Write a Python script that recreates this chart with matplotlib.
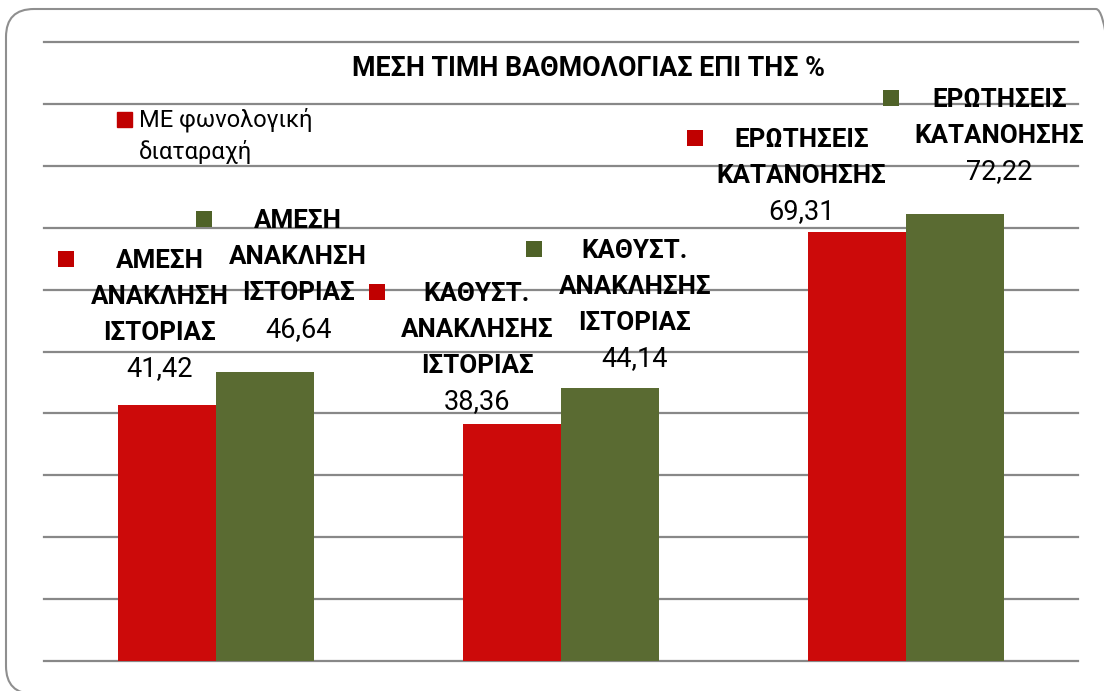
import matplotlib
matplotlib.use('Agg')
import matplotlib.pyplot as plt
from matplotlib.patches import FancyBboxPatch, Rectangle
from matplotlib.transforms import offset_copy

plt.rcParams['font.family'] = ['Roboto', 'DejaVu Sans']

# δεδομένα
categories = ['ΑΜΕΣΗ\nΑΝΑΚΛΗΣΗ\nΙΣΤΟΡΙΑΣ',
              'ΚΑΘΥΣΤ.\nΑΝΑΚΛΗΣΗΣ\nΙΣΤΟΡΙΑΣ',
              'ΕΡΩΤΗΣΕΙΣ\nΚΑΤΑΝΟΗΣΗΣ']
red_values = [41.42, 38.36, 69.31]
green_values = [46.64, 44.14, 72.22]
red_name = 'ΜΕ φωνολογική\nδιαταραχή'
title = 'ΜΕΣΗ ΤΙΜΗ ΒΑΘΜΟΛΟΓΙΑΣ ΕΠΙ ΤΗΣ %'

# θέσεις ετικετών (pixels): dx από κέντρο μπάρας, dy πάνω από την κορυφή, dx τετραγώνου
red_lbl = [(-8, 36, -93), (-35, 22, -100), (-55, 20, -107)]
green_lbl = [(33, 43, -94), (25, 29, -101), (45, 42, -109)]

W, H = 1104, 691
fig = plt.figure(figsize=(W / 100, H / 100), dpi=100)
ax = fig.add_axes([44 / W, 1 - 661 / H, 1034 / W, 619 / H])

bar_w = 0.284
x = list(range(len(categories)))
xr = [i - bar_w / 2 for i in x]
xg = [i + bar_w / 2 for i in x]
ax.bar(xr, red_values, bar_w, color='#CC0A0A', zorder=2)
ax.bar(xg, green_values, bar_w, color='#5A6B32', zorder=2)

ax.set_xlim(-0.5, 2.5)
ax.set_ylim(0, 100)
ax.set_yticks(range(0, 101, 10))
ax.set_xticks([])
ax.tick_params(left=False, labelleft=False)
for s in ax.spines.values():
    s.set_visible(False)
ax.set_axisbelow(True)
ax.yaxis.grid(True, color='#888888', linewidth=1.6)
for gl in ax.get_ygridlines():
    gl.set_clip_on(False)

step = 36
def label(xs, vals, lay, sq_color):
    for xi, v, cat, (dx, dy, sdx) in zip(xs, vals, categories, lay):
        ax.annotate(f'{v:.2f}'.replace('.', ','), (xi, v), xytext=(dx, dy),
                    textcoords='offset pixels', ha='center', va='center',
                    fontsize=19.5, color='black', zorder=5)
        lines = cat.split('\n')
        n = len(lines)
        for k, ln in enumerate(lines):
            ax.annotate(ln, (xi, v), xytext=(dx, dy + (n - k) * step),
                        textcoords='offset pixels', ha='center', va='center',
                        fontsize=18.7, fontweight='bold', color='black', zorder=5)
        tr = offset_copy(ax.transData, fig=fig, x=dx + sdx, y=dy + n * step + 2, units='dots')
        ax.plot([xi], [v], marker='s', ms=11.5, mew=0, color=sq_color,
                transform=tr, clip_on=False, zorder=5)

label(xr, red_values, red_lbl, '#C00000')
label(xg, green_values, green_lbl, '#4F6228')

# τίτλος
fig.text(588 / W, 1 - 68 / H, title, ha='center', va='center',
         fontsize=19.3, fontweight='bold')

# υπόμνημα
fig.patches.append(Rectangle((117 / W, 1 - 127 / H), 15 / W, 15 / H,
                             transform=fig.transFigure, color='#C00000'))
for k, ln in enumerate(red_name.split('\n')):
    fig.text(139 / W, 1 - (120 + 32 * k) / H, ln, ha='left', va='center', fontsize=17)

# πλαίσιο (σε pixels)
box = FancyBboxPatch((6, H - 694), 1118, 685,
                     boxstyle='round,pad=0,rounding_size=28',
                     transform=None, fill=False,
                     edgecolor='#8F8F8F', linewidth=1.5)
fig.patches.append(box)

fig.savefig('out.png', dpi=100)
